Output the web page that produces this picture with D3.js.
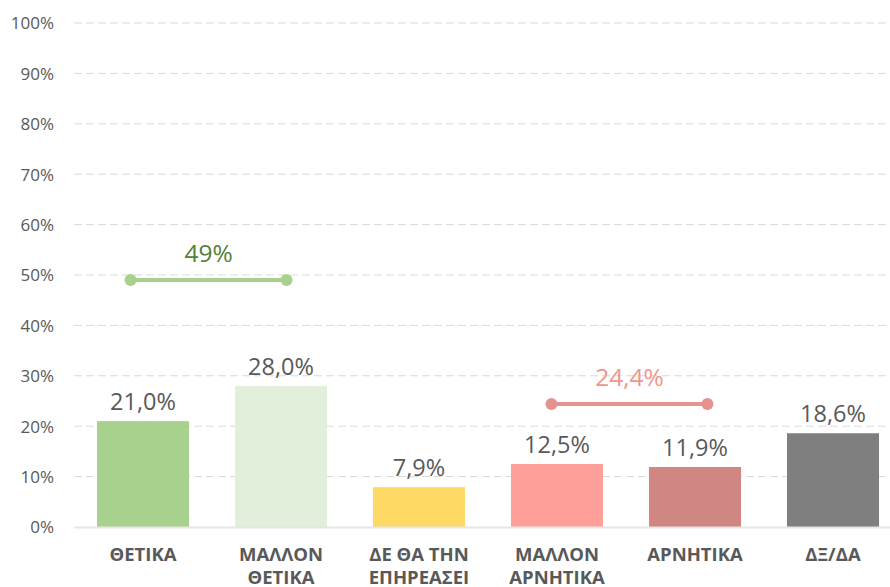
<!DOCTYPE html>
<html><head><meta charset="utf-8">
<script src="https://cdn.jsdelivr.net/npm/d3@7"></script>
<style>body{margin:0;background:#fff}svg{display:block}</style>
</head><body>
<svg id="c" width="890" height="587"></svg>
<script>
const categories = [["ΘΕΤΙΚΑ"],["ΜΑΛΛΟΝ","ΘΕΤΙΚΑ"],["ΔΕ ΘΑ ΤΗΝ","ΕΠΗΡΕΑΣΕΙ"],["ΜΑΛΛΟΝ","ΑΡΝΗΤΙΚΑ"],["ΑΡΝΗΤΙΚΑ"],["ΔΞ/ΔΑ"]];
const values = [21.0, 28.0, 7.9, 12.5, 11.9, 18.6];
const barColors = ["#a9d18e","#e2efda","#ffd966","#ff9f99","#d08682","#7f7f7f"];
const yTicks = [0,10,20,30,40,50,60,70,80,90,100];
const sumLabels = ["49%","24,4%"];
const sumValues = [49, 24.4];
const sumSpans = [[-0.09, 1.04],[2.96, 4.09]];
const sumLineColors = ["#a9d18e","#e6928e"];
const sumTextColors = ["#538135","#f4948c"];

const svg = d3.select("#c");
const x = d3.scaleBand().domain(d3.range(categories.length)).range([74, 902]).paddingInner(0.333).paddingOuter(0.1665);
const xi = d3.scaleLinear().domain([0,1]).range([x(0)+x.bandwidth()/2, x(1)+x.bandwidth()/2]);
const y = d3.scaleLinear().domain([0,100]).range([527, 23]);
const font = "'Open Sans', 'Segoe UI', sans-serif";

// gridlines
svg.append("g").selectAll("line").data(yTicks.filter(t=>t>0)).join("line")
  .attr("x1",74).attr("x2",890).attr("y1",d=>y(d)).attr("y2",d=>y(d))
  .attr("stroke","#d9d9d9").attr("stroke-width",1).attr("stroke-dasharray","8,4");

// y axis labels
const yAxis = d3.axisLeft(y).tickValues(yTicks).tickFormat(d=>d+"%").tickSize(0).tickPadding(0);
const ya = svg.append("g").attr("transform","translate(54,0)").call(yAxis);
ya.select(".domain").remove();
ya.selectAll("text").attr("font-family",font).attr("font-size",17).attr("fill","#595959").attr("dy","0.35em");

// bars
svg.append("g").selectAll("rect").data(values).join("rect")
  .attr("x",(d,i)=>x(i)).attr("width",x.bandwidth())
  .attr("y",d=>y(d)).attr("height",d=>y(0)-y(d))
  .attr("fill",(d,i)=>barColors[i]);

// baseline
svg.append("line").attr("x1",74).attr("x2",890).attr("y1",y(0)+0.5).attr("y2",y(0)+0.5)
  .attr("stroke","#e6e6e6").attr("stroke-width",2);

// value labels
svg.append("g").selectAll("text").data(values).join("text")
  .attr("x",(d,i)=>x(i)+x.bandwidth()/2).attr("y",d=>y(d)-11)
  .attr("text-anchor","middle").attr("font-family",font).attr("font-size",23.5)
  .attr("fill","#595959").text(d=>d.toFixed(1).replace(".",",")+"%");

// category labels
const cg = svg.append("g").selectAll("text").data(categories).join("text")
  .attr("x",(d,i)=>x(i)+x.bandwidth()/2).attr("y",561)
  .attr("text-anchor","middle").attr("font-family",font).attr("font-size",18.5).attr("font-weight","bold")
  .attr("fill","#595959");
cg.selectAll("tspan").data(d=>d).join("tspan")
  .attr("x",function(){return this.parentNode.getAttribute("x");})
  .attr("dy",(d,j)=>j?23:0).text(d=>d);

// summary lines
const sg = svg.append("g").selectAll("g").data(sumValues).join("g");
sg.append("line").attr("x1",(d,i)=>xi(sumSpans[i][0])).attr("x2",(d,i)=>xi(sumSpans[i][1]))
  .attr("y1",d=>y(d)).attr("y2",d=>y(d)).attr("stroke",(d,i)=>sumLineColors[i]).attr("stroke-width",4);
sg.each(function(d,i){
  d3.select(this).selectAll("circle").data(sumSpans[i]).join("circle")
    .attr("cx",s=>xi(s)).attr("cy",y(d)).attr("r",6).attr("fill",sumLineColors[i]);
});
sg.append("text").attr("x",(d,i)=>xi((sumSpans[i][0]+sumSpans[i][1])/2)).attr("y",d=>y(d)-18)
  .attr("text-anchor","middle").attr("font-family",font).attr("font-size",24.5)
  .attr("fill",(d,i)=>sumTextColors[i]).text((d,i)=>sumLabels[i]);
</script>
</body></html>
